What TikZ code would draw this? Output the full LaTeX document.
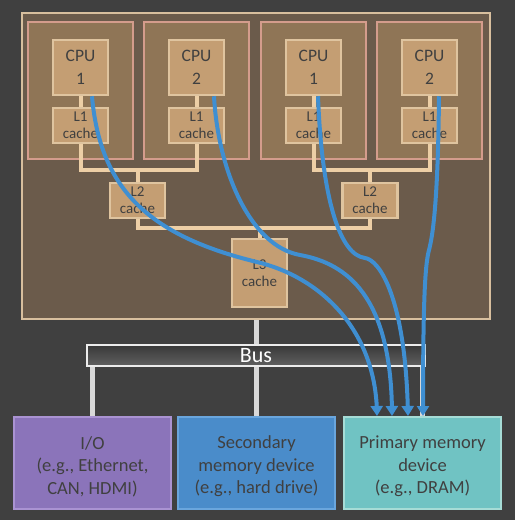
\documentclass[tikz,border=0pt]{standalone}
\usepackage{fontspec}
\setmainfont{Carlito}
\usetikzlibrary{arrows.meta,calc,bending}
\definecolor{bgcol}{HTML}{404040}
\definecolor{chipfill}{HTML}{6B5B4B}
\definecolor{chipborder}{HTML}{D8BF9E}
\definecolor{corefill}{HTML}{8F7556}
\definecolor{coreborder}{HTML}{D49C8C}
\definecolor{cachefill}{HTML}{C49E73}
\definecolor{cacheborder}{HTML}{DFC49F}
\definecolor{wirecol}{HTML}{EDCFA6}
\definecolor{txt}{HTML}{404040}
\definecolor{flowcol}{HTML}{3F8FD2}
\definecolor{buscol}{HTML}{D9D9D9}
\definecolor{iofill}{HTML}{8B74BA}
\definecolor{ioborder}{HTML}{AA93D2}
\definecolor{secfill}{HTML}{4A8CCA}
\definecolor{secborder}{HTML}{6AA6DD}
\definecolor{primfill}{HTML}{70C3C3}
\definecolor{primborder}{HTML}{A6DCD6}
\begin{document}
\begin{tikzpicture}[x=1pt,y=-1pt,
  chipbox/.style={draw=chipborder, fill=chipfill, line width=2pt, minimum width=468pt, minimum height=306pt, inner sep=0pt},
  corebox/.style={draw=coreborder, fill=corefill, line width=2pt, minimum width=105pt, minimum height=137pt, inner sep=0pt},
  cpubox/.style={draw=cacheborder, fill=cachefill, line width=2.5pt, minimum width=55pt, minimum height=55pt, inner sep=0pt, text=txt, align=center, font=\fontsize{17.5}{23}\selectfont},
  cachebox/.style={draw=cacheborder, fill=cachefill, line width=2.5pt, minimum width=55pt, minimum height=35pt, inner sep=0pt, text=txt, align=center, font=\fontsize{15}{17}\selectfont},
  wire/.style={draw=wirecol, line width=4pt},
  busline/.style={draw=buscol, line width=5pt},
  busbox/.style={draw=white!85!gray, line width=1.2pt, top color=black!78, bottom color=black!62, minimum width=338pt, minimum height=21pt, inner sep=0pt, text=white, font=\fontsize{22}{24}\selectfont},
  devbox/.style={line width=2pt, minimum width=157pt, minimum height=92pt, inner sep=0pt, text height=65pt, text=txt, align=center, font=\fontsize{18.5}{22.5}\selectfont},
  flow/.style={draw=flowcol, line width=4pt, -{Triangle[length=10pt,width=12pt]}}
]
\fill[bgcol] (0,0) rectangle (515,520);
\useasboundingbox (0,0) rectangle (515,520);

% chip and cores
\node[chipbox] (chip) at (256,166) {};
\node[corebox] (coreA) at (80.5,90.5) {};
\node[corebox] (coreB) at (196.5,90.5) {};
\node[corebox] (coreC) at (313.5,90.5) {};
\node[corebox] (coreD) at (429.5,90.5) {};

% CPUs and caches
\node[cpubox] (cpuA) at (80.5,67.5) {CPU\\1};
\node[cpubox] (cpuB) at (196.5,67.5) {CPU\\2};
\node[cpubox] (cpuC) at (313.5,67.5) {CPU\\1};
\node[cpubox] (cpuD) at (429.5,67.5) {CPU\\2};
\node[cachebox] (l1A) at (80.5,125.5) {L1\\cache};
\node[cachebox] (l1B) at (196.5,125.5) {L1\\cache};
\node[cachebox] (l1C) at (313.5,125.5) {L1\\cache};
\node[cachebox] (l1D) at (429.5,125.5) {L1\\cache};
\node[cachebox] (l2A) at (137.5,200.5) {L2\\cache};
\node[cachebox] (l2B) at (370,200.5) {L2\\cache};
\node[cachebox, minimum height=68pt] (l3) at (259.5,273) {L3\\cache};

% wires
\draw[wire] (cpuA) -- (l1A);
\draw[wire] (cpuB) -- (l1B);
\draw[wire] (cpuC) -- (l1C);
\draw[wire] (cpuD) -- (l1D);
\coordinate (jA) at (l2A.north |- 0,170);
\coordinate (jB) at (l2B.north |- 0,170);
\coordinate (jL3) at (l3.north |- 0,228);
\draw[wire] (l1A.south) |- (jA) -| (l1B.south);
\draw[wire] (jA) -- (l2A.north);
\draw[wire] (l1C.south) |- (jB) -| (l1D.south);
\draw[wire] (jB) -- (l2B.north);
\draw[wire] (l2A.south) |- (jL3) -| (l2B.south);
\draw[wire] (jL3) -- (l3.north);

% bus and devices
\node[busbox] (bus) at (256,355.5) {Bus};
\node[devbox, draw=ioborder, fill=iofill] (io) at (92.5,463) {I/O\\(e.g., Ethernet,\\CAN, HDMI)};
\node[devbox, draw=secborder, fill=secfill] (sec) at (256.5,463) {Secondary\\memory device\\(e.g., hard drive)};
\node[devbox, draw=primborder, fill=primfill] (prim) at (422.5,463) {Primary memory\\device\\(e.g., DRAM)};
\draw[busline] (chip.south) -- (bus.north);
\draw[busline] (io.north |- bus.south) -- (io.north);
\draw[busline] (sec.north |- bus.south) -- (sec.north);
\draw[busline] (prim.north |- bus.south) -- (prim.north);

% data flows
\coordinate (s1) at ($(cpuA.south)+(11.5,0)$);
\coordinate (s2) at ($(cpuB.south)+(17.5,0)$);
\coordinate (s3) at ($(cpuC.south)+(4.5,0)$);
\coordinate (s4) at ($(cpuD.south)+(9.5,0)$);
\coordinate (e1) at ($(prim.north)+(-45.5,0)$);
\coordinate (e2) at ($(prim.north)+(-30.5,0)$);
\coordinate (e3) at ($(prim.north)+(-14.5,0)$);
\coordinate (e4) at ($(prim.north)+(0.5,0)$);
\coordinate (m1) at (257,262);
\coordinate (m2) at (300,255);
\coordinate (m3) at (365,258);
\coordinate (m4) at (429,250);
\draw[flow] (s1) .. controls (100,190) and (150,236) .. (m1) .. controls (320,277) and (377,330) .. (e1);
\draw[flow] (s2) .. controls (218,170) and (250,246) .. (m2) .. controls (350,264) and (392,300) .. (e2);
\draw[flow] (s3) .. controls (322,200) and (340,255) .. (m3) .. controls (380,260) and (406,300) .. (e3);
\draw[flow] (s4) .. controls (438,200) and (433,235) .. (m4) .. controls (425,265) and (423,300) .. (e4);
\end{tikzpicture}
\end{document}
